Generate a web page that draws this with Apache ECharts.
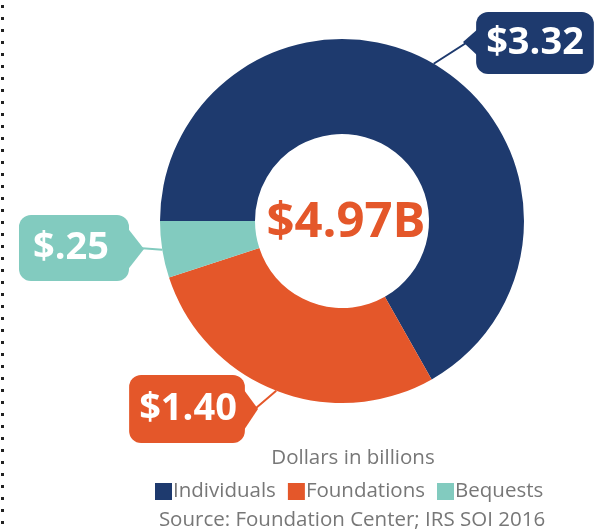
<!DOCTYPE html>
<html><head><meta charset="utf-8">
<script src="https://cdn.jsdelivr.net/npm/echarts@6/dist/echarts.min.js"></script>
<style>html,body{margin:0;padding:0;background:#fff}#c{width:602px;height:529px}</style>
</head><body><div id="c"></div>
<script>
const categories = ['Individuals', 'Foundations', 'Bequests'];
const values = [3.32, 1.40, 0.25];
const valueLabels = ['$3.32', '$1.40', '$.25'];
const totalLabel = '$4.97B';
const colors = ['#1e3a6e', '#e4572a', '#82cbbf'];

const labelPos = [
  {x: 535, y: 43},
  {x: 187, y: 409},
  {x: 74, y: 248}
];
const labelPad = [
  [13, 10, 11, 10],
  [16, 8, 14, 10],
  [15, 20, 13, 14]
];
// callout pointer notches (decoration)
const notches = [
  [[479, 28], [463, 42], [479, 57]],
  [[244, 390], [258, 409], [244, 430]],
  [[126, 226], [144, 249], [126, 272]]
];

const chart = echarts.init(document.getElementById('c'));
const font = '"Open Sans", "DejaVu Sans", sans-serif';
chart.setOption({
  animation: false,
  color: colors,
  title: [{
    text: totalLabel,
    left: 341, top: 218,
    textAlign: 'center', textVerticalAlign: 'middle',
    textStyle: {color: '#e4572a', fontSize: 49, fontWeight: 'bold', fontFamily: font}
  }, {
    text: 'Dollars in billions',
    left: 348, top: 443, textAlign: 'center',
    textStyle: {color: '#777', fontSize: 20.5, fontWeight: 'normal', fontFamily: font}
  }, {
    text: 'Source: Foundation Center; IRS SOI 2016',
    left: 347, top: 505, textAlign: 'center',
    textStyle: {color: '#777', fontSize: 20.5, fontWeight: 'normal', fontFamily: font}
  }],
  legend: {
    data: categories,
    left: 150, top: 476,
    icon: 'rect', itemWidth: 17, itemHeight: 17, itemGap: 12,
    textStyle: {color: '#777', fontSize: 20.5, fontFamily: font, padding: [0, 0, 0, -4]}
  },
  graphic: [{
    type: 'line',
    shape: {x1: 2.5, y1: 5, x2: 2.5, y2: 524},
    style: {stroke: '#222', lineWidth: 3, lineDash: [3, 9]}
  }].concat(notches.map((pts, i) => ({
    type: 'polygon', z: 5,
    shape: {points: pts},
    style: {fill: colors[i]}
  }))),
  series: [{
    type: 'pie',
    center: [342, 221],
    radius: [87, 182],
    startAngle: 180,
    clockwise: true,
    data: categories.map((n, i) => ({name: n, value: values[i], label: {padding: labelPad[i]}})),
    label: {
      show: true,
      formatter: p => valueLabels[p.dataIndex],
      color: '#fff', fontSize: 38, fontWeight: 'bold', fontFamily: font,
      borderRadius: 12,
      backgroundColor: 'inherit'
    },
    labelLine: {show: true, length: 10, length2: 10, lineStyle: {width: 2}},
    labelLayout: p => ({
      x: labelPos[p.dataIndex].x,
      y: labelPos[p.dataIndex].y,
      align: 'center',
      verticalAlign: 'middle'
    }),
    emphasis: {disabled: true}
  }]
});
</script></body></html>
